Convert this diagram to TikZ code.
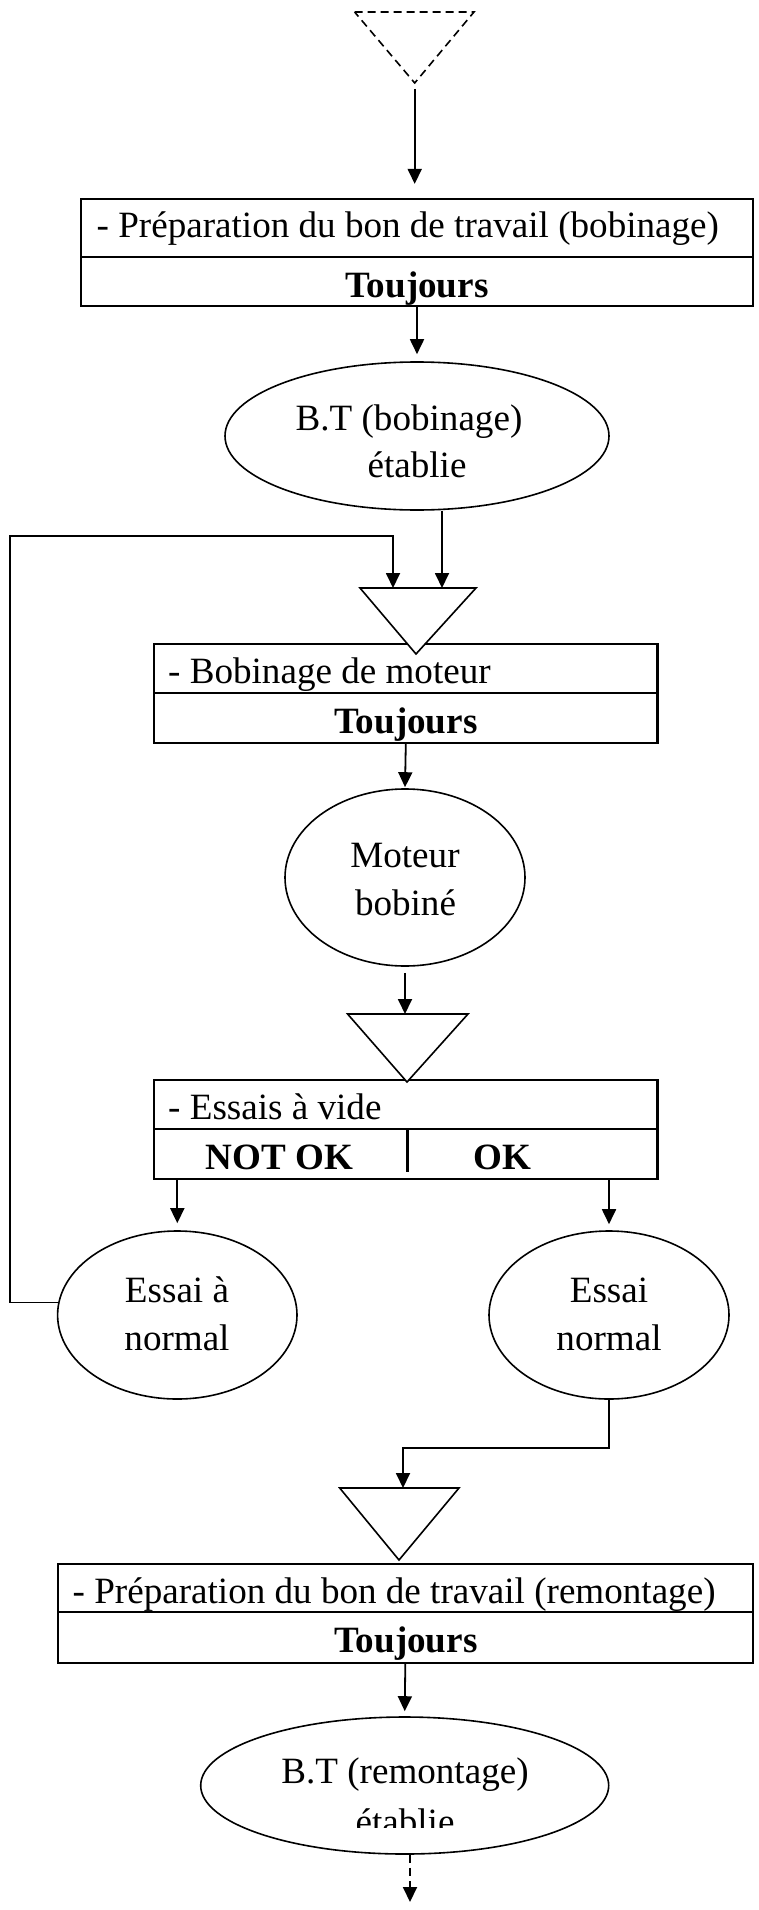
\documentclass[tikz,border=0pt]{standalone}
\usepackage{fontspec}
\setmainfont{Liberation Serif}
\usetikzlibrary{arrows.meta,shapes.geometric}

\begin{document}
\begin{tikzpicture}[x=1pt,y=-1pt,
  font=\fontsize{37.1}{47}\selectfont,
  box/.style={draw,rectangle,line width=2.2pt,inner sep=0pt},
  divider/.style={line width=2.2pt},
  oval/.style={draw,ellipse,line width=1.6pt,inner sep=0pt},
  tri/.style={draw,fill=white,line width=1.6pt,line join=miter},
  txt/.style={inner sep=0pt,anchor=base},
  ltxt/.style={inner sep=0pt,anchor=base west},
  arr/.style={line width=1.8pt,-{Triangle[length=15pt,width=14pt]}},
  dashline/.style={dash pattern=on 8pt off 5pt},
]
\useasboundingbox (0,0) rectangle (759,1910);

% ---------- process boxes ----------
\node[box,minimum width=672pt,minimum height=107pt] (box1) at (417,252.5) {};
\draw[divider] (81,257) -- (753,257);
\node[ltxt] (box1a) at (96.5,237.5) {- Préparation du bon de travail (bobinage)};
\node[txt] (box1b) at (417,297) {\textbf{Toujours}};

\node[box,minimum width=503.5pt,minimum height=99pt] (box2) at (405.8,693.5) {};
\draw[divider] (154,693) -- (657.5,693);
\node[ltxt] (box2a) at (168,683) {- Bobinage de moteur};
\node[txt] (box2b) at (406,733) {\textbf{Toujours}};

\node[box,minimum width=503.5pt,minimum height=99pt] (box3) at (405.8,1129.5) {};
\draw[divider] (154,1129) -- (657.5,1129);
\draw[divider] (407.5,1129) -- (407.5,1172);
\node[ltxt] (box3a) at (168,1119) {- Essais à vide};
\node[txt] (box3b) at (279.5,1169) {\textbf{NOT OK}};
\node[txt] (box3c) at (502.6,1169) {\textbf{OK}};

\node[box,minimum width=695.4pt,minimum height=99pt] (box4) at (405.3,1613.5) {};
\draw[divider] (57.6,1612) -- (753,1612);
\node[ltxt] (box4a) at (72.5,1603) {- Préparation du bon de travail (remontage)};
\node[txt] (box4b) at (406,1652) {\textbf{Toujours}};

% ---------- states ----------
\node[oval,minimum width=384pt,minimum height=148pt] (e1) at (417,436) {};
\node[txt] (e1a) at (409,430) {B.T (bobinage)};
\node[txt] (e1b) at (417,477) {établie};

\node[oval,minimum width=240pt,minimum height=177pt] (c1) at (405,877.5) {};
\node[txt] (c1a) at (405,867) {Moteur};
\node[txt] (c1b) at (405.5,915) {bobiné};

\node[oval,minimum width=239.4pt,minimum height=168pt] (c3) at (177.3,1315) {};
\node[txt] (c3a) at (177,1302) {Essai à};
\node[txt] (c3b) at (177,1350) {normal};

\node[oval,minimum width=240pt,minimum height=168pt] (c4) at (609,1315) {};
\node[txt] (c4a) at (609,1302) {Essai};
\node[txt] (c4b) at (609,1350) {normal};

\node[oval,minimum width=408pt,minimum height=137pt] (e2) at (404.7,1785.5) {};
\node[txt] (e2a) at (405,1783) {B.T (remontage)};
\begin{scope}
  \clip (0,0) rectangle (759,1827);
  \node[txt] (e2b) at (405,1834) {établie};
\end{scope}

% ---------- stock triangles ----------
\coordinate (t1l) at (354.6,12);  \coordinate (t1r) at (474,12);   \coordinate (t1) at (414.7,83);
\coordinate (t2l) at (360,588);   \coordinate (t2r) at (476,588);  \coordinate (t2) at (416,654);
\coordinate (t3l) at (347.6,1014);\coordinate (t3r) at (468,1014); \coordinate (t3) at (407,1082);
\coordinate (t4l) at (339.7,1488);\coordinate (t4r) at (459,1488); \coordinate (t4) at (399,1560);

\draw[line width=1.6pt,dashline] (t1l) -- (t1r) -- (t1) -- cycle;
\path[tri] (t2l) -- (t2r) -- (t2) -- cycle;
\path[tri] (t3l) -- (t3r) -- (t3) -- cycle;
\path[tri] (t4l) -- (t4r) -- (t4) -- cycle;

% ---------- connectors ----------
\coordinate (t2inA) at (393,588);
\coordinate (t2inB) at (442,588);
\coordinate (loop) at (10,536);
\coordinate (t4in) at (403,1488);
\coordinate (flowout) at (410,1902);

\draw[arr,shorten <=6pt,shorten >=14pt] (t1) -- (t1 |- box1.north);
\draw[arr,shorten >=7pt] (box1.south) -- (e1.north);
\draw[arr] (t2inB |- e1.south) -- (t2inB);
\draw[arr] (c3.174) -| (loop) -| (t2inA);
\draw[arr,shorten >=1pt] (box2.south) -- (c1.north);
\draw[arr,shorten <=6pt] (c1.south) -- (c1.south |- t3l);
\draw[arr,shorten >=7pt] (box3.south -| c3.north) -- (c3.north);
\draw[arr,shorten >=6pt] (box3.south -| c4.north) -- (c4.north);
\draw[arr] (c4.south) -- ++(0,48) -| (t4in);
\draw[arr,shorten >=5pt] (box4.south) -- (e2.north);
\draw[arr,dashline] (flowout |- e2.south) -- (flowout);

\end{tikzpicture}
\end{document}
